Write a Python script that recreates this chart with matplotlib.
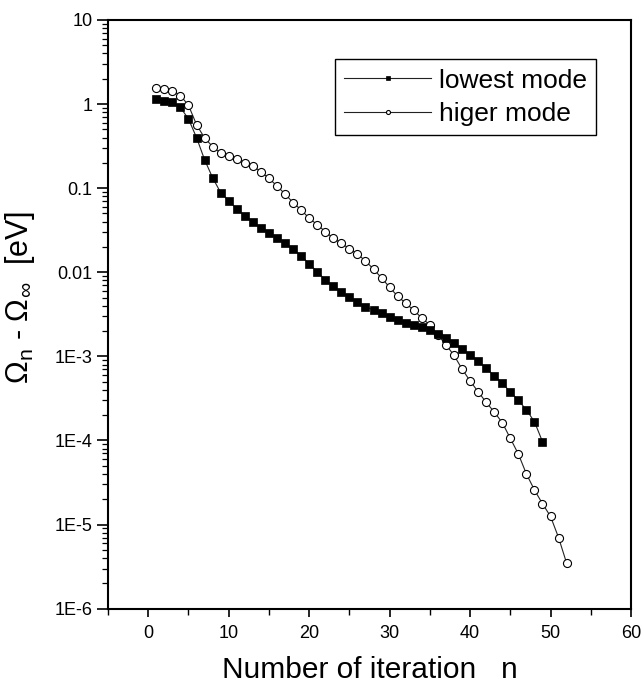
import matplotlib
matplotlib.use("Agg")
import matplotlib.pyplot as plt
from matplotlib.ticker import LogLocator, FixedLocator, NullFormatter, FixedFormatter

plt.rcParams['font.family'] = ['Liberation Sans', 'DejaVu Sans']
plt.rcParams['mathtext.fontset'] = 'custom'
plt.rcParams['mathtext.rm'] = 'Liberation Sans'
plt.rcParams['mathtext.it'] = 'Liberation Sans'
plt.rcParams['mathtext.sf'] = 'Liberation Sans'

# ---- data ----
n_low = list(range(1, 50))
lowest_mode = [1.16, 1.10, 1.05, 0.91, 0.665, 0.40, 0.218, 0.133, 0.0885, 0.071,
               0.0566, 0.0471, 0.0396, 0.0339, 0.0296, 0.0258, 0.0221, 0.01875, 0.01578, 0.01256,
               0.01016, 0.00809, 0.00687, 0.00583, 0.00505, 0.0044, 0.0039, 0.00356, 0.00325, 0.00294,
               0.00271, 0.00250, 0.00234, 0.00222, 0.00204, 0.00184, 0.00164, 0.00143, 0.00122, 0.00105,
               0.00088, 0.00072, 0.00059, 0.00048, 0.000377, 0.0003, 0.000231, 0.000167, 0.0000968]

n_high = list(range(1, 53))
higher_mode = [1.54, 1.50, 1.44, 1.26, 0.967, 0.569, 0.395, 0.312, 0.26, 0.2415,
               0.222, 0.201, 0.1837, 0.157, 0.131, 0.106, 0.0853, 0.0673, 0.0551, 0.0439,
               0.0368, 0.0304, 0.0254, 0.0221, 0.0191, 0.0165, 0.0136, 0.0109, 0.00855, 0.00662,
               0.00518, 0.00428, 0.00353, 0.00286, 0.00236, 0.0018, 0.00137, 0.00103, 0.000708, 0.00051,
               0.00038, 0.000284, 0.000218, 0.000163, 0.000106, 6.9e-5, 4.0e-5, 2.58e-5, 1.77e-5, 1.25e-5,
               6.99e-6, 3.47e-6]

y_ticks = [1e-6, 1e-5, 1e-4, 1e-3, 1e-2, 1e-1, 1, 10]
y_tick_labels = ['1E-6', '1E-5', '1E-4', '1E-3', '0.01', '0.1', '1', '10']
x_ticks = [0, 10, 20, 30, 40, 50, 60]

fig = plt.figure(figsize=(6.41, 6.87), dpi=100)
ax = fig.add_axes([0.1685, 0.114, 0.8159, 0.857])

ax.plot(n_low, lowest_mode, color='#222222', lw=0.8, marker='s', ms=5.6,
        mfc='black', mec='black', mew=0.5, label='lowest mode', zorder=3)
ax.plot(n_high, higher_mode, color='#222222', lw=0.8, marker='o', ms=5.8,
        mfc='white', mec='black', mew=0.8, label='higer mode', zorder=2)

ax.set_yscale('log')
ax.set_ylim(1e-6, 10)
ax.set_xlim(-5, 60)

ax.yaxis.set_major_locator(FixedLocator(y_ticks))
ax.yaxis.set_major_formatter(FixedFormatter(y_tick_labels))
ax.yaxis.set_minor_locator(LogLocator(base=10, subs=range(2, 10), numticks=20))
ax.yaxis.set_minor_formatter(NullFormatter())
ax.xaxis.set_major_locator(FixedLocator(x_ticks))
ax.xaxis.set_minor_locator(FixedLocator([-5, 5, 15, 25, 35, 45, 55]))

ax.tick_params(axis='y', which='major', direction='out', length=8, width=1.2, labelsize=13, pad=3)
ax.tick_params(axis='y', which='minor', direction='out', length=4, width=0.9)
ax.tick_params(axis='x', which='major', direction='out', length=6, width=1.2, labelsize=13, pad=6)
ax.tick_params(axis='x', which='minor', direction='out', length=4, width=1.0)
ax.tick_params(top=False, right=False, which='both')

for s in ax.spines.values():
    s.set_linewidth(1.5)

ax.set_xlabel('Number of iteration   n', fontsize=21.5, labelpad=10)
ax.set_ylabel(r'$\Omega_\mathrm{n}$ - $\Omega_\infty$  [eV]', fontsize=22)
ax.yaxis.set_label_coords(-0.136, 0.528)

leg = ax.legend(loc='upper right', bbox_to_anchor=(0.934, 0.933), borderaxespad=0,
                fontsize=19, fancybox=False, edgecolor='black', framealpha=1,
                markerscale=0.5, handlelength=3.3, handletextpad=0.3,
                borderpad=0.35, labelspacing=0.35)
leg.get_frame().set_linewidth(1.0)

fig.savefig('out.png', dpi=100)
